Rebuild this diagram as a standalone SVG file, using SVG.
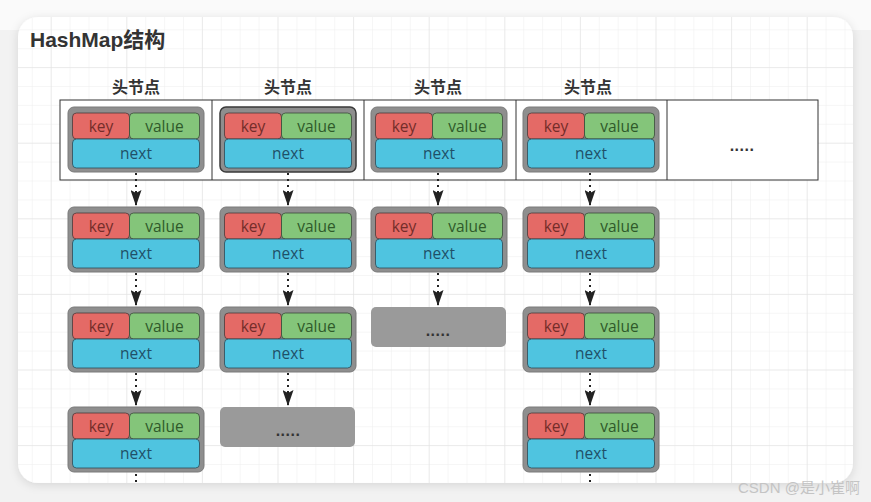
<svg xmlns="http://www.w3.org/2000/svg" width="871" height="502" viewBox="0 0 871 502">
<defs>
<style>
.bg{fill:#f2f2f2}
.ttl{font-family:"Liberation Sans","Noto Sans CJK SC",sans-serif;font-weight:bold;font-size:21px;fill:#333}
.hd{font-family:"Noto Sans CJK SC","Liberation Sans",sans-serif;font-weight:bold;font-size:16px;fill:#333;text-anchor:middle}
.tbl{fill:#fff;stroke:#333;stroke-width:1}
.div{stroke:#333;stroke-width:1}
.outer{fill:#8e8e8e;stroke:#7a7a7a;stroke-width:1}
.outer.sel{stroke:#3a3a3a;stroke-width:1.5}
.key{fill:#e46a66;stroke:#4a3a3a;stroke-width:0.8}
.val{fill:#84c57a;stroke:#3a4a3a;stroke-width:0.8}
.nxt{fill:#4fc4e0;stroke:#2e4a55;stroke-width:0.8}
.t{font-family:"Open Sans","Liberation Sans",sans-serif;font-size:15.5px;text-anchor:middle}
.tk{fill:#742d2a}
.tv{fill:#2f5a2a}
.tn{fill:#1f5068}
.more{fill:#9a9a9a}
.dots{font-family:"Liberation Sans",sans-serif;font-weight:bold;font-size:16px;fill:#333;text-anchor:middle;letter-spacing:0.5px}
.arr{stroke:#222;stroke-width:2;stroke-dasharray:2 4;fill:none}
.wm{font-family:"Liberation Sans","Noto Sans CJK SC",sans-serif;font-size:15px;fill:#c4c4c4}
</style>
<pattern id="gmin" patternUnits="userSpaceOnUse" x="12.9" y="10.4" width="18.9" height="18.9">
<path d="M0,0 V18.9 M0,0 H18.9" stroke="#eeeeee" stroke-width="1" fill="none"/>
</pattern>
<pattern id="gmaj" patternUnits="userSpaceOnUse" x="50.7" y="67.1" width="75.6" height="75.6">
<path d="M0,0 V75.6 M0,0 H75.6" stroke="#e0e0e0" stroke-width="1" fill="none"/>
</pattern>
<filter id="sh" x="-5%" y="-5%" width="110%" height="110%">
<feDropShadow dx="0" dy="2" stdDeviation="5" flood-color="#000" flood-opacity="0.12"/>
</filter>
<marker id="ah2" viewBox="0 0 16 11" refX="16" refY="5.5" markerWidth="16" markerHeight="11" markerUnits="userSpaceOnUse" orient="auto">
<path d="M0,0 L16,5.5 L0,11 L3,5.5 Z" fill="#222"/>
</marker>
<g id="node">
<rect class="key" x="4.5" y="6" width="57" height="26" rx="4"/>
<rect class="val" x="61.5" y="6" width="70" height="26" rx="4"/>
<rect class="nxt" x="4.5" y="32" width="127" height="29" rx="4"/>
<text class="t tk" x="33" y="24.5">key</text>
<text class="t tv" x="96.5" y="24.5">value</text>
<text class="t tn" x="68" y="51.5">next</text>
</g>
</defs>
<rect class="bg" x="0" y="0" width="871" height="502"/>
<rect x="0" y="0" width="871" height="30" fill="#fafafa"/>
<rect x="18" y="17" width="835" height="466" rx="20" fill="#fff" filter="url(#sh)"/>
<rect x="18" y="17" width="835" height="466" rx="20" fill="url(#gmin)"/>
<rect x="18" y="17" width="835" height="466" rx="20" fill="url(#gmaj)"/>

<text class="ttl" x="30" y="47">HashMap结构</text>

<g id="table">
<rect class="tbl" x="60" y="100" width="758" height="80"/>
<line class="div" x1="212" y1="100" x2="212" y2="180"/>
<line class="div" x1="364" y1="100" x2="364" y2="180"/>
<line class="div" x1="516" y1="100" x2="516" y2="180"/>
<line class="div" x1="667" y1="100" x2="667" y2="180"/>
<text class="hd" x="136" y="93">头节点</text>
<text class="hd" x="288" y="93">头节点</text>
<text class="hd" x="438" y="93">头节点</text>
<text class="hd" x="588" y="93">头节点</text>
<text class="dots" x="742" y="151">.....</text>
</g>

<g id="connectors" marker-end="url(#ah2)">
<line class="arr" x1="136" y1="173" x2="136" y2="206"/>
<line class="arr" x1="136" y1="273" x2="136" y2="306"/>
<line class="arr" x1="136" y1="373" x2="136" y2="406"/>
<line class="arr" marker-end="none" x1="136" y1="474" x2="136" y2="484"/>
<line class="arr" x1="288" y1="173" x2="288" y2="206"/>
<line class="arr" x1="288" y1="273" x2="288" y2="306"/>
<line class="arr" x1="288" y1="373" x2="288" y2="406"/>
<line class="arr" x1="438" y1="173" x2="438" y2="206"/>
<line class="arr" x1="438" y1="273" x2="438" y2="306"/>
<line class="arr" x1="590" y1="173" x2="590" y2="206"/>
<line class="arr" x1="590" y1="273" x2="590" y2="306"/>
<line class="arr" x1="590" y1="373" x2="590" y2="406"/>
<line class="arr" marker-end="none" x1="590" y1="474" x2="590" y2="484"/>
</g>

<g id="c1r1" transform="translate(68,107)"><rect class="outer" width="136" height="65" rx="6"/><use href="#node"/></g>
<g id="c1r2" transform="translate(68,207)"><rect class="outer" width="136" height="65" rx="6"/><use href="#node"/></g>
<g id="c1r3" transform="translate(68,307)"><rect class="outer" width="136" height="65" rx="6"/><use href="#node"/></g>
<g id="c1r4" transform="translate(68,407)"><rect class="outer" width="136" height="65" rx="6"/><use href="#node"/></g>

<g id="c2r1" transform="translate(220,107)"><rect class="outer sel" width="136" height="65" rx="6"/><use href="#node"/></g>
<g id="c2r2" transform="translate(220,207)"><rect class="outer" width="136" height="65" rx="6"/><use href="#node"/></g>
<g id="c2r3" transform="translate(220,307)"><rect class="outer" width="136" height="65" rx="6"/><use href="#node"/></g>
<g id="c2r4"><rect class="more" x="220" y="407" width="135" height="40" rx="5"/><text class="dots" x="288" y="436">.....</text></g>

<g id="c3r1" transform="translate(371,107)"><rect class="outer" width="136" height="65" rx="6"/><use href="#node"/></g>
<g id="c3r2" transform="translate(371,207)"><rect class="outer" width="136" height="65" rx="6"/><use href="#node"/></g>
<g id="c3r3"><rect class="more" x="371" y="307" width="135" height="40" rx="5"/><text class="dots" x="438" y="336">.....</text></g>

<g id="c4r1" transform="translate(523,107)"><rect class="outer" width="136" height="65" rx="6"/><use href="#node"/></g>
<g id="c4r2" transform="translate(523,207)"><rect class="outer" width="136" height="65" rx="6"/><use href="#node"/></g>
<g id="c4r3" transform="translate(523,307)"><rect class="outer" width="136" height="65" rx="6"/><use href="#node"/></g>
<g id="c4r4" transform="translate(523,407)"><rect class="outer" width="136" height="65" rx="6"/><use href="#node"/></g>

<text class="wm" x="738" y="493">CSDN @是小崔啊</text>
</svg>
